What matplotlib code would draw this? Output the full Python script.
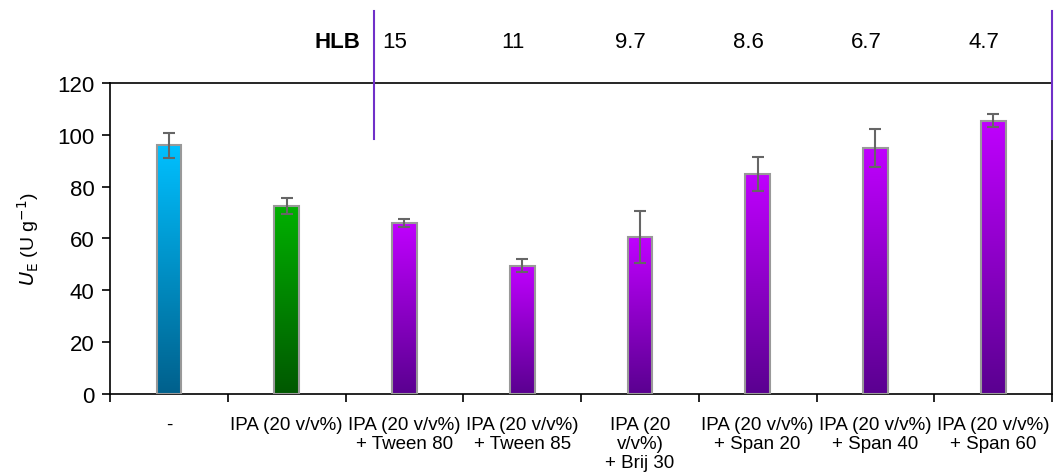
import matplotlib
matplotlib.use("Agg")
import matplotlib.pyplot as plt
import numpy as np
from matplotlib.colors import LinearSegmentedColormap

plt.rcParams['font.family'] = ['Liberation Sans', 'DejaVu Sans']
plt.rcParams['font.size'] = 13

# Data
categories = ['-', 'IPA (20 v/v%)', 'IPA (20 v/v%)\n+ Tween 80', 'IPA (20 v/v%)\n+ Tween 85',
              'IPA (20\nv/v%)\n+ Brij 30', 'IPA (20 v/v%)\n+ Span 20',
              'IPA (20 v/v%)\n+ Span 40', 'IPA (20 v/v%)\n+ Span 60']
values = [96, 72.5, 66, 49.5, 60.5, 85, 95, 105.5]
errors = [4.8, 3.2, 1.6, 2.6, 10.0, 6.5, 7.3, 2.5]
hlb_values = ['15', '11', '9.7', '8.6', '6.7', '4.7']
bar_groups = ['blue', 'green'] + ['purple'] * 6

gradients = {
    'blue': ('#00C0FF', '#00608C'),
    'green': ('#00B000', '#005800'),
    'purple': ('#C000FF', '#5A0090'),
}

fig = plt.figure(figsize=(10.63, 4.77), dpi=100)
ax = fig.add_axes([0.1035, 0.172, 0.8862, 0.652])

x = np.arange(len(values))
bar_width = 0.21
bars = ax.bar(x, values, bar_width, facecolor='none', edgecolor='#999999',
              linewidth=1.5, zorder=3)

# gradient fill inside each bar
grad = np.linspace(1, 0, 256).reshape(-1, 1)
for bar, grp in zip(bars, bar_groups):
    top_c, bot_c = gradients[grp]
    cmap = LinearSegmentedColormap.from_list(grp, [bot_c, top_c])
    x0 = bar.get_x()
    ax.imshow(grad, cmap=cmap, aspect='auto', origin='upper',
              extent=[x0, x0 + bar.get_width(), 0, bar.get_height()],
              zorder=2, vmin=0, vmax=1)

ax.errorbar(x, values, yerr=errors, fmt='none', ecolor='#666666',
            elinewidth=1.5, capsize=4, capthick=1.5, zorder=4)

ax.set_xlim(-0.5, len(values) - 0.5)
ax.set_ylim(0, 120)
ax.set_yticks(np.arange(0, 121, 20))

# tick marks at category boundaries, labels at centres
ax.set_xticks(np.arange(-0.5, len(values)), minor=False)
ax.set_xticklabels([])
ax.set_xticks(x, minor=True)
ax.set_xticklabels(categories, minor=True, fontsize=13.5, linespacing=1.15)
ax.tick_params(axis='x', which='minor', length=0, pad=16)
ax.tick_params(axis='x', which='major', length=6, width=1.2, direction='out')
ax.tick_params(axis='y', length=6, width=1.2, labelsize=16, pad=5)

for sp in ax.spines.values():
    sp.set_linewidth(1.2)

ax.set_ylabel(r'$\mathit{U}_\mathrm{E}$ (U g$^{-1}$)', fontsize=14, labelpad=12)

# HLB row above the plot
ax.text(1.63, 136, 'HLB', fontweight='bold', fontsize=16, ha='right', va='center')
for xi, hv in zip(x[2:], hlb_values):
    ax.text(xi - 0.08, 136, hv, fontsize=16, ha='center', va='center')

trans = ax.get_xaxis_transform()
for xl in [1.742, len(values) - 0.5]:
    ax.plot([xl, xl], [0.82, 1.23], color='#7030C8', linewidth=1.5,
            transform=trans, clip_on=False, zorder=5)

fig.savefig('out.png', dpi=100)
